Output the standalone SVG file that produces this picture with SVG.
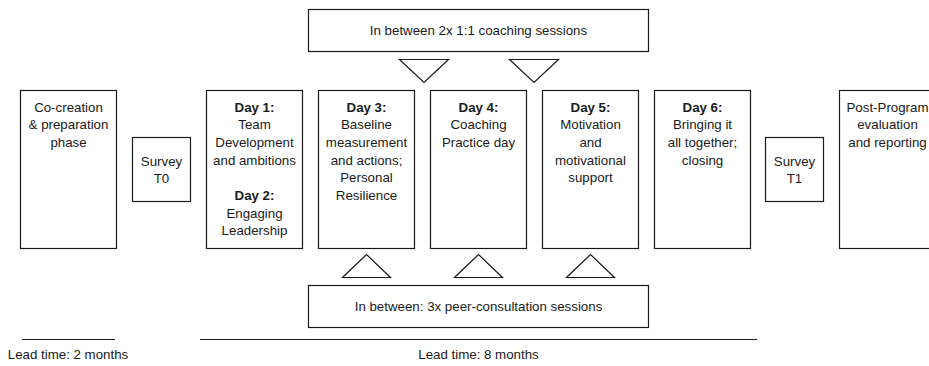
<svg xmlns="http://www.w3.org/2000/svg" width="929" height="366" viewBox="0 0 929 366">
  <style>
    .box { fill: #ffffff; stroke: #1a1a1a; stroke-width: 1.2; }
    .tri { fill: #ffffff; stroke: #1a1a1a; stroke-width: 1.2; stroke-linejoin: miter; }
    .rule { stroke: #1a1a1a; stroke-width: 1.2; }
    text { font-family: "Liberation Sans", Arial, sans-serif; font-size: 13.3px; fill: #1a1a1a; text-anchor: middle; }
    .b { font-weight: bold; }
  </style>
  <rect width="929" height="366" fill="#ffffff"/>

  <!-- session banners -->
  <g id="coaching-sessions">
    <rect class="box" x="308.5" y="9.5" width="340" height="42"/>
    <text x="478.5" y="35">In between 2x 1:1 coaching sessions</text>
  </g>
  <g id="peer-sessions">
    <rect class="box" x="308.5" y="285.5" width="340" height="42"/>
    <text x="478.5" y="311">In between: 3x peer-consultation sessions</text>
  </g>

  <!-- programme phases -->
  <g id="co-creation">
    <rect class="box" x="20.5" y="90.5" width="96" height="158"/>
    <text x="68.5" y="111.7">Co-creation</text>
    <text x="68.5" y="129.3">&amp; preparation</text>
    <text x="68.5" y="147">phase</text>
  </g>
  <g id="survey-t0">
    <rect class="box" x="132.5" y="137.5" width="58" height="64"/>
    <text x="161.5" y="165.7">Survey</text>
    <text x="161.5" y="183.3">T0</text>
  </g>
  <g id="day-1-2">
    <rect class="box" x="206.5" y="90.5" width="96" height="158"/>
    <text class="b" x="254.5" y="111.7">Day 1:</text>
    <text x="254.5" y="129.3">Team</text>
    <text x="254.5" y="147">Development</text>
    <text x="254.5" y="164.7">and ambitions</text>
    <text class="b" x="254.5" y="200">Day 2:</text>
    <text x="254.5" y="217.7">Engaging</text>
    <text x="254.5" y="235.3">Leadership</text>
  </g>
  <g id="day-3">
    <rect class="box" x="318.5" y="90.5" width="96" height="158"/>
    <text class="b" x="366.5" y="111.7">Day 3:</text>
    <text x="366.5" y="129.3">Baseline</text>
    <text x="366.5" y="147">measurement</text>
    <text x="366.5" y="164.7">and actions;</text>
    <text x="366.5" y="182.3">Personal</text>
    <text x="366.5" y="200">Resilience</text>
  </g>
  <g id="day-4">
    <rect class="box" x="430.5" y="90.5" width="96" height="158"/>
    <text class="b" x="478.5" y="111.7">Day 4:</text>
    <text x="478.5" y="129.3">Coaching</text>
    <text x="478.5" y="147">Practice day</text>
  </g>
  <g id="day-5">
    <rect class="box" x="542.5" y="90.5" width="96" height="158"/>
    <text class="b" x="590.5" y="111.7">Day 5:</text>
    <text x="590.5" y="129.3">Motivation</text>
    <text x="590.5" y="147">and</text>
    <text x="590.5" y="164.7">motivational</text>
    <text x="590.5" y="182.3">support</text>
  </g>
  <g id="day-6">
    <rect class="box" x="654.5" y="90.5" width="96" height="158"/>
    <text class="b" x="702.5" y="111.7">Day 6:</text>
    <text x="702.5" y="129.3">Bringing it</text>
    <text x="702.5" y="147">all together;</text>
    <text x="702.5" y="164.7">closing</text>
  </g>
  <g id="survey-t1">
    <rect class="box" x="765.5" y="137.5" width="58" height="64"/>
    <text x="794.5" y="165.7">Survey</text>
    <text x="794.5" y="183.3">T1</text>
  </g>
  <g id="post-program">
    <rect class="box" x="839.5" y="90.5" width="96" height="158"/>
    <text x="887.5" y="111.7">Post-Program</text>
    <text x="887.5" y="129.3">evaluation</text>
    <text x="887.5" y="147">and reporting</text>
  </g>

  <!-- session markers between the days -->
  <g id="connectors">
    <polygon class="tri" points="399.5,59.5 448.5,59.5 424,82.5"/>
    <polygon class="tri" points="509.5,59.5 558.5,59.5 534,82.5"/>
    <polygon class="tri" points="342.5,277.5 390.5,277.5 366.5,254.5"/>
    <polygon class="tri" points="454.5,277.5 502.5,277.5 478.5,254.5"/>
    <polygon class="tri" points="566.5,277.5 614.5,277.5 590.5,254.5"/>
  </g>

  <!-- lead times -->
  <g id="lead-times">
    <line class="rule" x1="22" y1="339.5" x2="115" y2="339.5"/>
    <text x="68" y="359">Lead time: 2 months</text>
    <line class="rule" x1="200" y1="339.5" x2="757" y2="339.5"/>
    <text x="478.5" y="359">Lead time: 8 months</text>
  </g>
</svg>
